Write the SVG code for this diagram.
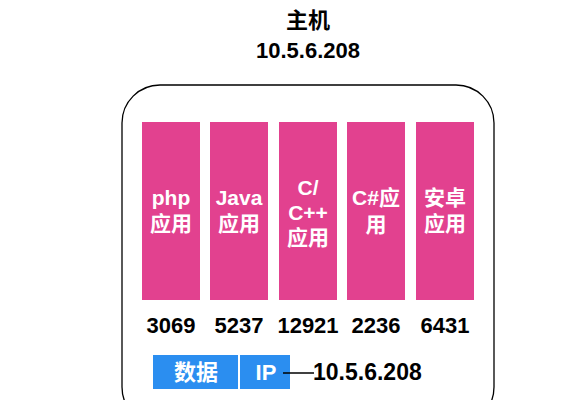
<svg xmlns="http://www.w3.org/2000/svg" width="584" height="400" viewBox="0 0 584 400">
<style>
text{font-family:"Liberation Sans","Noto Sans CJK SC",sans-serif;font-weight:bold;text-anchor:middle}
.app{fill:#E2418F}
.appt{fill:#fff;font-size:21px}
.num{fill:#000;font-size:22px}
.blue{fill:#2B8EF0}
.bt{fill:#fff;font-size:22px}
.title{fill:#000;font-size:22px}
</style>
<rect width="584" height="400" fill="#fff"/>
<g id="host">
<rect x="122" y="85" width="372" height="340" rx="38" ry="38" fill="none" stroke="#000" stroke-width="1.3"/>
<text class="title" x="308" y="28">主机</text>
<text class="title" x="308" y="58">10.5.6.208</text>
</g>
<g id="app-php">
<rect class="app" x="142" y="122" width="58" height="178"/>
<text class="appt" x="171" y="205">php</text>
<text class="appt" x="171" y="231">应用</text>
<text class="num" x="171" y="333">3069</text>
</g>
<g id="app-java">
<rect class="app" x="210" y="122" width="58" height="178"/>
<text class="appt" x="239" y="205">Java</text>
<text class="appt" x="239" y="231">应用</text>
<text class="num" x="239" y="333">5237</text>
</g>
<g id="app-c">
<rect class="app" x="279" y="122" width="58" height="178"/>
<text class="appt" x="308" y="195">C/</text>
<text class="appt" x="308" y="220">C++</text>
<text class="appt" x="308" y="245">应用</text>
<text class="num" x="308" y="333">12921</text>
</g>
<g id="app-csharp">
<rect class="app" x="347" y="122" width="58" height="178"/>
<text class="appt" x="376" y="205">C#应</text>
<text class="appt" x="376" y="232">用</text>
<text class="num" x="376" y="333">2236</text>
</g>
<g id="app-android">
<rect class="app" x="416" y="122" width="58" height="178"/>
<text class="appt" x="445" y="205">安卓</text>
<text class="appt" x="445" y="231">应用</text>
<text class="num" x="445" y="333">6431</text>
</g>
<g id="data">
<rect class="blue" x="153" y="355" width="85" height="34"/>
<text class="bt" x="196" y="380">数据</text>
</g>
<g id="ip">
<rect class="blue" x="240" y="355" width="50" height="34"/>
<text class="bt" x="266" y="380">IP</text>
</g>
<g id="connectors">
<line x1="283" y1="373" x2="314" y2="373" stroke="#000" stroke-width="1.5"/>
</g>
<g id="ip-label">
<text class="title" x="313" y="380" style="text-anchor:start;font-size:23px">10.5.6.208</text>
</g>
</svg>
